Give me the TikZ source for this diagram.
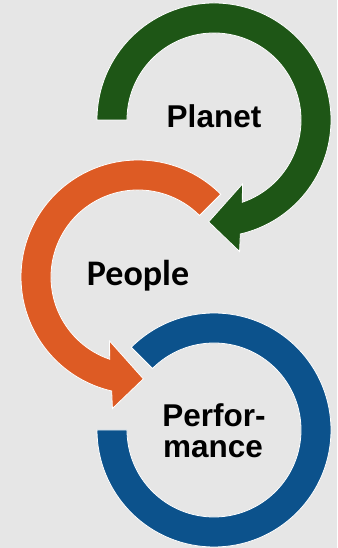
\documentclass[tikz,border=0pt]{standalone}
\usepackage{fontspec}
\setmainfont{Liberation Sans}
\newfontfamily\peoplefont{Carlito}
\definecolor{bg}{RGB}{230,230,230}
\definecolor{planetgreen}{RGB}{30,86,22}
\definecolor{peopleorange}{RGB}{221,91,36}
\definecolor{perfblue}{RGB}{12,82,140}
\tikzset{
  ring/.style={draw=white,line width=0.8pt,line join=miter},
  label/.style={font=\bfseries\fontsize{31.5}{33}\selectfont,align=center,anchor=base}
}
\begin{document}
\begin{tikzpicture}[x=1pt,y=1pt]
\fill[bg] (0,0) rectangle (337,548);
\useasboundingbox (0,0) rectangle (337,548);
% Planet
\begin{scope}[shift={(214,428)}]
\filldraw[ring,fill=planetgreen] (180:117pt) arc[start angle=180,end angle=-77,radius=117pt]
  -- (-79:134pt) -- (-93:102pt) -- (-66:70pt) -- (-71:87pt)
  arc[start angle=-71,end angle=180,radius=87pt] -- cycle;
\end{scope}
% People
\begin{scope}[shift={(138,271)}]
\filldraw[ring,fill=peopleorange] (45:117pt) arc[start angle=45,end angle=257,radius=117pt]
  -- (259:134pt) -- (273:102pt) -- (246:70pt) -- (251:87pt)
  arc[start angle=251,end angle=45,radius=87pt] -- cycle;
\end{scope}
% Performance
\begin{scope}[shift={(214,118)}]
\filldraw[ring,fill=perfblue] (135:117pt) arc[start angle=135,end angle=-180,radius=117pt]
  -- (180:87pt) arc[start angle=-180,end angle=135,radius=87pt] -- cycle;
\end{scope}
\node[label] (Planet) at (214,420) {Planet};
\node[label,font=\peoplefont\bfseries\fontsize{36}{38}\selectfont] (People) at (138,262) {People};
\node[label] (Perf) at (214,121) {Perfor-};
\node[label] (Mance) at (213,90) {mance};
\end{tikzpicture}
\end{document}
